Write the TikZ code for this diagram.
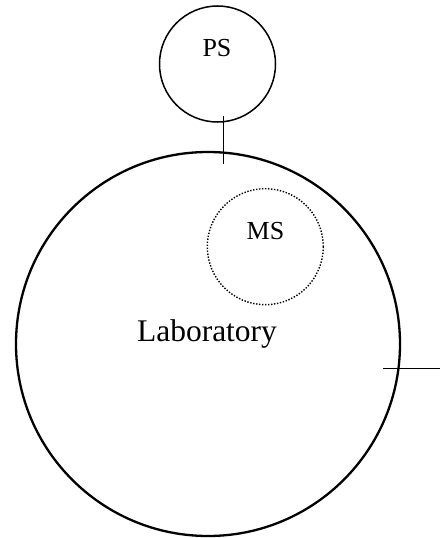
\documentclass[tikz,border=0pt]{standalone}
\usepackage{fontspec}
\setmainfont{Liberation Serif}
\begin{document}
\begin{tikzpicture}[x=1pt,y=-1pt,
  ring/.style={draw,circle,inner sep=0pt,line width=1.5pt},
  bigring/.style={draw,circle,inner sep=0pt,line width=2.3pt},
  dotring/.style={draw,circle,inner sep=0pt,line width=1.4pt,dash pattern=on 1.4pt off 1.6pt},
  tag/.style={inner sep=0pt,font=\fontsize{26}{26}\selectfont},
  bigtag/.style={inner sep=0pt,font=\fontsize{31.5}{31.5}\selectfont},
  wire/.style={line width=1.5pt}]
\useasboundingbox (0,0) rectangle (440,538);
% enclosures
\node[ring,minimum size=116pt] (ps) at (217.5,64) {};
\node[bigring,minimum size=384pt] (lab) at (208,344) {};
\node[dotring,minimum size=116pt] (ms) at (265.3,246.7) {};
% labels
\node[tag] (pslabel) at (217,48) {PS};
\node[tag] (mslabel) at (265.5,231) {MS};
\node[bigtag] (lablabel) at (207,334) {Laboratory};
% crossing lines
\coordinate (psjoinA) at (223.7,116);
\coordinate (psjoinB) at (223.7,164);
\coordinate (outA) at (383,368.3);
\coordinate (outB) at (440,368.3);
\draw[wire] (psjoinA) -- (psjoinB);
\draw[wire] (outA) -- (outB);
\end{tikzpicture}
\end{document}
